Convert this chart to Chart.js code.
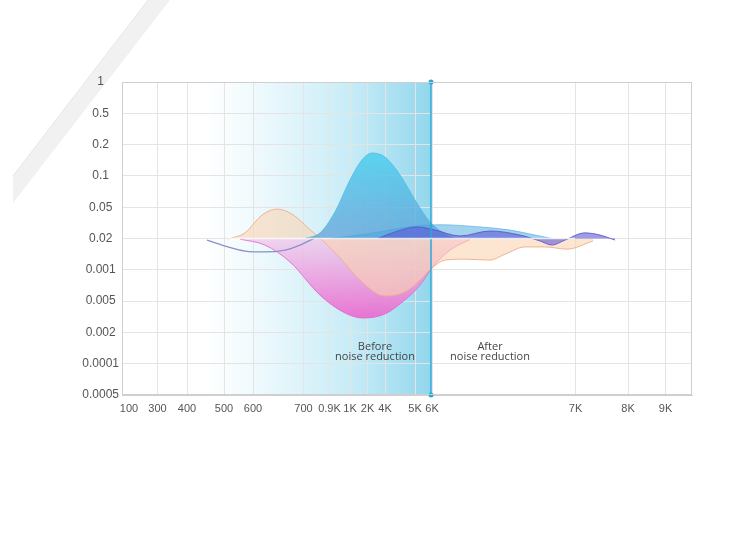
<!DOCTYPE html>
<html>
<head>
<meta charset="utf-8">
<script src="https://cdn.jsdelivr.net/npm/chart.js@4/dist/chart.umd.min.js"></script>
<style>
  body { margin: 0; background: #fff; }
  canvas { display: block; }
</style>
</head>
<body>
<canvas id="grafico" width="750" height="540"></canvas>
<script>
// axis labels (y is a stepped index scale, x is position along the frequency axis)
const yTickLabels = ['1', '0.5', '0.2', '0.1', '0.05', '0.02', '0.001', '0.005', '0.002', '0.0001', '0.0005'];
const xTickLabels = ['100', '300', '400', '500', '600', '700', '0.9K', '1K', '2K', '4K', '5K', '6K', '7K', '8K', '9K'];
const xTickAt = [7, 35.5, 65, 102, 131, 181.5, 207.5, 228, 245.5, 263, 293, 310, 453.5, 506, 543.5];

const baseline = 5;       // the 0.02 row
const dividerAt = 309;    // 6K

// curves: [x, y]
const bluePeak = [[183, 5.0], [198, 5.18], [213, 5.85], [228, 6.87], [240, 7.51], [250, 7.73], [263, 7.6],
  [278, 7.03], [293, 6.23], [308, 5.53], [323, 5.14], [333, 5.0]];
const blueBand = [[208, 5.0], [248, 5.16], [288, 5.38], [318, 5.44], [358, 5.37], [388, 5.27], [413, 5.11], [430, 5.0]];
const purpleBand = [[256, 5.0], [273, 5.21], [295, 5.37], [313, 5.27], [338, 5.08], [368, 5.24], [398, 5.11],
  [418, 4.92], [430, 4.79], [443, 4.95], [463, 5.18], [478, 5.11], [493, 4.95]];
const peach = [[106, 4.98], [123, 5.18], [140, 5.75], [155, 5.94], [170, 5.78], [186, 5.34], [200, 4.95],
  [218, 4.38], [238, 3.67], [263, 3.16], [283, 3.29], [298, 3.67], [310, 4.06], [323, 4.31], [343, 4.34],
  [368, 4.31], [383, 4.5], [403, 4.73], [423, 4.73], [445, 4.66], [471, 4.92]];
const magenta = [[118, 4.98], [143, 4.79], [168, 4.25], [198, 3.19], [223, 2.62], [241, 2.46], [263, 2.59],
  [283, 3.04], [298, 3.51], [310, 4.06], [328, 4.63], [348, 4.97]];
const greyLine = [[85, 4.95], [103, 4.76], [123, 4.6], [143, 4.57], [163, 4.63], [178, 4.79], [193, 5.02]];

const toPts = arr => arr.map(p => ({ x: p[0], y: p[1] }));

function vGrad(ctx, top, bottom, stops) {
  const g = ctx.createLinearGradient(0, top, 0, bottom);
  stops.forEach(s => g.addColorStop(s[0], s[1]));
  return g;
}

function area(data, border, fillFn, order) {
  return {
    data: toPts(data),
    borderColor: border,
    borderWidth: 1,
    backgroundColor: c => {
      const ch = c.chart;
      if (!ch.chartArea) return 'transparent';
      return fillFn(ch.ctx, ch.scales.y);
    },
    fill: { value: baseline },
    pointRadius: 0,
    cubicInterpolationMode: 'monotone',
    order: order
  };
}

const backdrop = {
  id: 'backdrop',
  beforeDraw(chart) {
    const { ctx, chartArea: a, scales } = chart;
    ctx.save();
    // diagonal band top-left
    ctx.fillStyle = '#f1f1f1';
    ctx.beginPath();
    ctx.moveTo(148, 0); ctx.lineTo(170, 0); ctx.lineTo(13, 203); ctx.lineTo(13, 176);
    ctx.closePath(); ctx.fill();
    ctx.strokeStyle = '#e6e6e6';
    ctx.beginPath(); ctx.moveTo(148, 0); ctx.lineTo(13, 176); ctx.stroke();
    // "before" shading
    const x0 = scales.x.getPixelForValue(80);
    const x1 = scales.x.getPixelForValue(dividerAt);
    const g = ctx.createLinearGradient(x0, 0, x1, 0);
    g.addColorStop(0, 'rgba(235,248,252,0)');
    g.addColorStop(0.3, 'rgba(225,245,251,0.75)');
    g.addColorStop(0.65, 'rgba(192,233,246,0.88)');
    g.addColorStop(1, 'rgba(140,212,236,0.95)');
    ctx.fillStyle = g;
    ctx.fillRect(x0, a.top, x1 - x0, a.bottom - a.top);
    ctx.restore();
  },
  afterDatasetsDraw(chart) {
    const { ctx, scales } = chart;
    const xs = peach.concat(purpleBand).map(p => p[0]);
    const y = scales.y.getPixelForValue(baseline);
    ctx.save();
    ctx.strokeStyle = 'rgba(255,255,255,0.75)';
    ctx.lineWidth = 1.5;
    ctx.beginPath();
    ctx.moveTo(scales.x.getPixelForValue(Math.min(...xs)), y);
    ctx.lineTo(scales.x.getPixelForValue(Math.max(...xs) - 40), y);
    ctx.stroke();
    ctx.restore();
  },
  afterDraw(chart) {
    const { ctx, chartArea: a, scales } = chart;
    ctx.save();
    ctx.strokeStyle = '#cfcfcf';
    ctx.lineWidth = 1;
    ctx.strokeRect(a.left + 0.5, a.top + 0.5, a.right - a.left - 1, a.bottom - a.top - 1);
    ctx.fillStyle = '#444';
    ctx.font = '11px "Open Sans", sans-serif';
    ctx.textAlign = 'center';
    ctx.textBaseline = 'middle';
    const y1 = scales.y.getPixelForValue(1.55);
    const y2 = scales.y.getPixelForValue(1.23);
    ctx.fillText('Before', scales.x.getPixelForValue(253), y1);
    ctx.fillText('noise reduction', scales.x.getPixelForValue(253), y2);
    ctx.fillText('After', scales.x.getPixelForValue(368), y1);
    ctx.fillText('noise reduction', scales.x.getPixelForValue(368), y2);
    ctx.restore();
  }
};

new Chart(document.getElementById('grafico'), {
  type: 'line',
  data: {
    datasets: [
      {
        data: [{ x: dividerAt, y: 0 }, { x: dividerAt, y: 10 }],
        borderColor: '#2aa8d4',
        backgroundColor: '#2aa8d4',
        borderWidth: 1.5,
        pointRadius: 2.5,
        pointBorderWidth: 0,
        clip: false,
        order: 0
      },
      area(purpleBand, 'rgba(85,80,200,0.8)', () => 'rgba(95,90,215,0.6)', 1),
      area(blueBand, 'rgba(70,170,220,0.6)', () => 'rgba(70,165,220,0.5)', 2),
      area(bluePeak, 'rgba(80,185,225,0.8)', (ctx, ys) => vGrad(ctx, ys.getPixelForValue(7.8), ys.getPixelForValue(5), [
        [0, 'rgba(80,210,240,0.9)'], [1, 'rgba(95,160,215,0.75)']]), 3),
      area(peach, 'rgba(238,170,130,0.85)', () => 'rgba(250,212,178,0.6)', 4),
      area(magenta, 'rgba(225,105,205,0.85)', (ctx, ys) => vGrad(ctx, ys.getPixelForValue(5), ys.getPixelForValue(2.4), [
        [0, 'rgba(240,200,235,0.75)'], [1, 'rgba(236,100,205,0.9)']]), 5),
      {
        data: toPts(greyLine),
        borderColor: '#8b91c4',
        borderWidth: 1.3,
        pointRadius: 0,
        fill: false,
        cubicInterpolationMode: 'monotone',
        order: 0
      }
    ]
  },
  options: {
    responsive: false,
    animation: false,
    layout: { padding: { top: 82, right: 58, left: 78, bottom: 0 } },
    plugins: {
      legend: { display: false },
      tooltip: { enabled: false }
    },
    scales: {
      x: {
        type: 'linear',
        min: 0,
        max: 570,
        afterBuildTicks: s => { s.ticks = xTickAt.map(v => ({ value: v })); },
        afterFit: s => { s.height = 145; },
        ticks: {
          autoSkip: false,
          maxRotation: 0,
          padding: 7,
          color: '#555',
          font: { family: '"Liberation Sans", Arial', size: 11 },
          callback: (v, i) => xTickLabels[i]
        },
        grid: {
          drawTicks: false,
          color: c => c.index === 0 ? 'rgba(0,0,0,0)' : '#e4e4e4'
        },
        border: { color: '#cfcfcf' }
      },
      y: {
        type: 'linear',
        min: 0,
        max: 10,
        afterFit: s => { s.width = 44; },
        ticks: {
          stepSize: 1,
          padding: 3,
          crossAlign: 'center',
          color: '#555',
          font: { family: '"Liberation Sans", Arial', size: 12 },
          callback: v => yTickLabels[10 - v]
        },
        grid: { drawTicks: false, color: '#e4e4e4' },
        border: { color: '#cfcfcf' }
      }
    }
  },
  plugins: [backdrop]
});
</script>
</body>
</html>
